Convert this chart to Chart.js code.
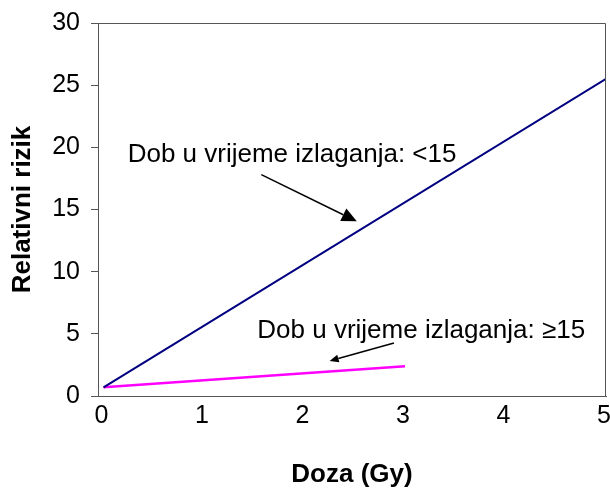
<!DOCTYPE html>
<html>
<head>
    <title>Relativni rizik</title>
    <script src="https://cdn.jsdelivr.net/npm/chart.js"></script>
    <style>
        body { margin: 0; background: #fff; }
    </style>
</head>
<body>
    <canvas id="rizikChart" width="610" height="498"></canvas>
    <script>
        // Data
        const dozaMlado = [0, 5];
        const rizikMlado = [0.7, 25.5];
        const dozaStarije = [0, 3];
        const rizikStarije = [0.7, 2.4];
        const xTicks = [0, 1, 2, 3, 4, 5];

        // Annotation labels and arrows (data coordinates)
        const labels = ['Dob u vrijeme izlaganja: <15', 'Dob u vrijeme izlaganja: \u226515'];
        const labelPos = [[0.24, 18.8], [1.53, 4.7]];
        const arrows = [[1.57, 17.8, 2.52, 14.05], [2.89, 4.27, 2.25, 2.82]];
        const arrowHead = [[15, 7], [9, 4]];

        const axisColor = '#555555';
        const font = 'Liberation Sans, Arial, sans-serif';

        const extras = {
            id: 'extras',
            afterDraw(chart) {
                const ctx = chart.ctx;
                const area = chart.chartArea;
                const xs = chart.scales.x, ys = chart.scales.y;
                ctx.save();
                // plot border (top + right)
                ctx.strokeStyle = axisColor;
                ctx.lineWidth = 1;
                ctx.beginPath();
                ctx.moveTo(area.left, area.top + 0.5);
                ctx.lineTo(area.right - 0.5, area.top + 0.5);
                ctx.lineTo(area.right - 0.5, area.bottom);
                ctx.stroke();

                // labels
                ctx.fillStyle = '#000';
                ctx.font = '26px ' + font;
                ctx.textBaseline = 'alphabetic';
                ctx.textAlign = 'left';
                labels.forEach((t, i) => {
                    ctx.fillText(t, xs.getPixelForValue(labelPos[i][0]), ys.getPixelForValue(labelPos[i][1]));
                });

                // arrows
                ctx.strokeStyle = '#000';
                ctx.lineWidth = 1.5;
                arrows.forEach((a, i) => {
                    const x1 = xs.getPixelForValue(a[0]), y1 = ys.getPixelForValue(a[1]);
                    const x2 = xs.getPixelForValue(a[2]), y2 = ys.getPixelForValue(a[3]);
                    const ang = Math.atan2(y2 - y1, x2 - x1);
                    const len = arrowHead[i][0], half = arrowHead[i][1];
                    const bx = x2 - len * Math.cos(ang), by = y2 - len * Math.sin(ang);
                    ctx.beginPath();
                    ctx.moveTo(x1, y1);
                    ctx.lineTo(bx, by);
                    ctx.stroke();
                    ctx.beginPath();
                    ctx.moveTo(x2, y2);
                    ctx.lineTo(bx + half * Math.sin(ang), by - half * Math.cos(ang));
                    ctx.lineTo(bx - half * Math.sin(ang), by + half * Math.cos(ang));
                    ctx.closePath();
                    ctx.fillStyle = '#000';
                    ctx.fill();
                });
                ctx.restore();
            }
        };

        const ctx = document.getElementById('rizikChart').getContext('2d');
        const chart = new Chart(ctx, {
            type: 'scatter',
            data: {
                datasets: [{
                    label: '<15',
                    data: dozaMlado.map((x, i) => ({ x: x, y: rizikMlado[i] })),
                    showLine: true,
                    borderColor: '#000080',
                    borderWidth: 2,
                    pointRadius: 0
                }, {
                    label: '>=15',
                    data: dozaStarije.map((x, i) => ({ x: x, y: rizikStarije[i] })),
                    showLine: true,
                    borderColor: '#FF00FF',
                    borderWidth: 2.5,
                    pointRadius: 0
                }]
            },
            options: {
                responsive: false,
                animation: false,
                layout: { padding: { top: 23, right: 4, left: 0, bottom: 0 } },
                plugins: {
                    legend: { display: false },
                    tooltip: { enabled: false }
                },
                scales: {
                    x: {
                        type: 'linear',
                        min: -0.055,
                        max: 5,
                        afterBuildTicks: s => { s.ticks = xTicks.map(v => ({ value: v })); },
                        afterFit: s => { s.height = 102; s.paddingLeft = 0; s.paddingRight = 0; },
                        grid: { display: false, drawTicks: false },
                        border: { color: axisColor, width: 1 },
                        ticks: {
                            padding: 5,
                            labelOffset: -2,
                            color: '#000',
                            maxRotation: 0,
                            font: { family: font, size: 25 }
                        },
                        title: {
                            display: true,
                            text: 'Doza (Gy)',
                            color: '#000',
                            padding: { top: 0, bottom: 8 },
                            font: { family: font, size: 26, weight: 'bold' }
                        }
                    },
                    y: {
                        min: 0,
                        max: 30,
                        ticks: {
                            stepSize: 5,
                            padding: 11,
                            color: '#000',
                            font: { family: font, size: 25 }
                        },
                        afterFit: s => { s.width = 98; s.paddingTop = 0; s.paddingBottom = 0; },
                        grid: { drawOnChartArea: false, tickLength: 7, color: axisColor },
                        border: { color: axisColor, width: 1 },
                        title: {
                            display: true,
                            text: 'Relativni rizik',
                            color: '#000',
                            padding: { top: 7, bottom: 0 },
                            font: { family: font, size: 26, weight: 'bold' }
                        }
                    }
                }
            },
            plugins: [extras]
        });
    </script>
</body>
</html>
